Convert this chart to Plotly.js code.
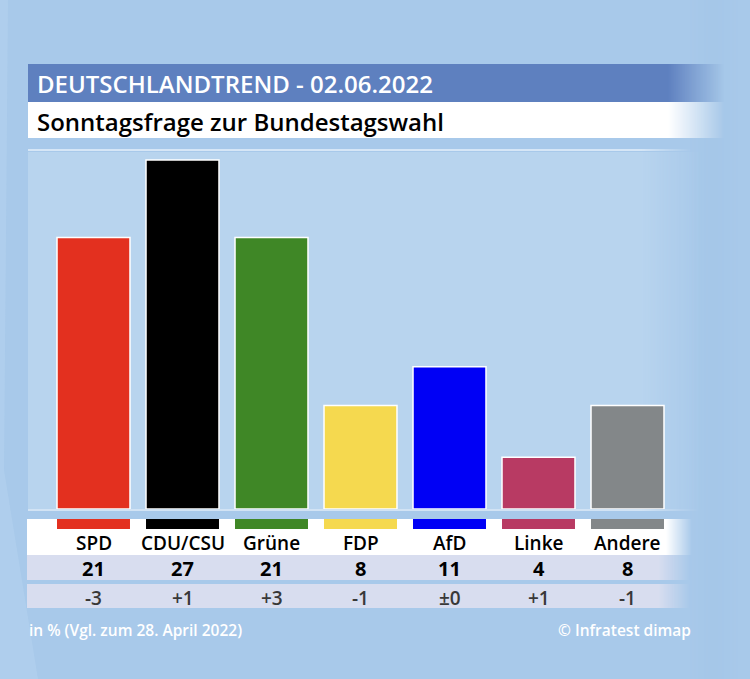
<!DOCTYPE html>
<html><head><meta charset="utf-8">
<script src="https://cdn.plot.ly/plotly-3.0.1.min.js"></script>
<style>html,body{margin:0;padding:0;background:#a8c9ea;}#chart{width:750px;height:679px;}</style>
</head><body><div id="chart"></div>
<script>
const parties = ["SPD","CDU/CSU","Grüne","FDP","AfD","Linke","Andere"];
const values = [21,27,21,8,11,4,8];
const changes = ["-3","+1","+3","-1","±0","+1","-1"];
const colors = ["#e3301f","#000000","#3f8726","#f5d94f","#0000f5","#b83a63","#838789"];

const W=750,H=679;
const px=x=>x/W, py=y=>1-y/H;
const FONT='"Open Sans", sans-serif';
const shapes=[];
function rect(x0,x1,y0,y1,color,opacity,layer){
  shapes.push({type:'rect',xref:'paper',yref:'paper',x0:px(x0),x1:px(x1),y0:py(y1),y1:py(y0),
    fillcolor:color,opacity:opacity==null?1:opacity,line:{width:0},layer:layer||'below'});
}
function fadeRect(x0,x1,y0,y1,color,fs){
  rect(x0,fs,y0,y1,color,1);
  const n=Math.round(x1-fs);
  for(let i=0;i<n;i++){rect(fs+i,fs+i+1,y0,y1,color,1-(i+0.5)/n);}
}
// background variations
shapes.push({type:'path',xref:'paper',yref:'paper',path:`M0,${py(0)} L${px(8)},${py(0)} L${px(4)},${py(470)} L${px(38)},${py(679)} L0,${py(679)} Z`,fillcolor:'#b4d2ef',opacity:0.6,line:{width:0},layer:'below'});
for(let i=0;i<24;i++){rect(690+i*2,692+i*2,0,679,'#97bde2',0.18*(1-Math.abs(i-11.5)/12),'below');}
// title bands
fadeRect(28,724,64,102,'#5e80bf',668);
fadeRect(28,725,102,138,'#ffffff',668);
fadeRect(28,692,149,151,'#d6e6f6',640);
// chart panel
fadeRect(28,702,152,509,'#b8d4ee',640);
// baseline
fadeRect(28,700,509,511,'#d2e3f4',640);
// table rows
fadeRect(27,692,519,555,'#ffffff',666);
fadeRect(27,690,555,580,'#d8ddef',658);
fadeRect(27,690,584,608,'#d8ddef',658);
// color keys under bars, from data
parties.forEach((p,i)=>{
  shapes.push({type:'rect',xref:'x',yref:'paper',x0:i-0.41,x1:i+0.41,y0:py(529),y1:py(519),
    fillcolor:colors[i],line:{width:0},layer:'above'});
});

const annotations=[];
const common={xref:'x',yref:'paper',showarrow:false,xanchor:'center',yanchor:'middle'};
parties.forEach((p,i)=>{
  annotations.push(Object.assign({},common,{x:p,y:py(543),text:p,font:{family:FONT,size:19,color:'#000',weight:600}}));
  annotations.push(Object.assign({},common,{x:p,y:py(568),text:String(values[i]),font:{family:FONT,size:20,color:'#000',weight:700}}));
  annotations.push(Object.assign({},common,{x:p,y:py(598),text:changes[i],font:{family:FONT,size:19,color:'#383838',weight:600}}));
});
annotations.push({xref:'paper',yref:'paper',x:px(35),y:py(83),xanchor:'left',yanchor:'middle',showarrow:false,
  text:'DEUTSCHLANDTREND - 02.06.2022',font:{family:FONT,size:24,color:'#fff',weight:600}});
annotations.push({xref:'paper',yref:'paper',x:px(35),y:py(121),xanchor:'left',yanchor:'middle',showarrow:false,
  text:'Sonntagsfrage zur Bundestagswahl',font:{family:FONT,size:24,color:'#000',weight:600}});
annotations.push({xref:'paper',yref:'paper',x:px(27),y:py(630),xanchor:'left',yanchor:'middle',showarrow:false,
  text:'in % (Vgl. zum 28. April 2022)',font:{family:FONT,size:15.5,color:'#fff',weight:600}});
annotations.push({xref:'paper',yref:'paper',x:px(693),y:py(630),xanchor:'right',yanchor:'middle',showarrow:false,
  text:'© Infratest dimap',font:{family:FONT,size:15.5,color:'#fff',weight:600}});

const trace={type:'bar',x:parties,y:values,marker:{color:colors,line:{color:'#ffffff',width:1.5}},
  hoverinfo:'skip',textposition:'none'};
const unit=(509-160)/27;
const layout={width:W,height:H,margin:{l:0,r:0,t:0,b:0},paper_bgcolor:'#a8c9ea',plot_bgcolor:'rgba(0,0,0,0)',
  showlegend:false,bargap:0.18,
  xaxis:{domain:[px(49),px(672)],range:[-0.5,6.5],showticklabels:false,showgrid:false,zeroline:false,showline:false,ticks:''},
  yaxis:{domain:[py(509),py(152)],range:[0,(509-152)/unit],showticklabels:false,showgrid:false,zeroline:false,showline:false,ticks:''},
  shapes:shapes,annotations:annotations};
Plotly.newPlot('chart',[trace],layout,{displayModeBar:false,staticPlot:true});
</script></body></html>
